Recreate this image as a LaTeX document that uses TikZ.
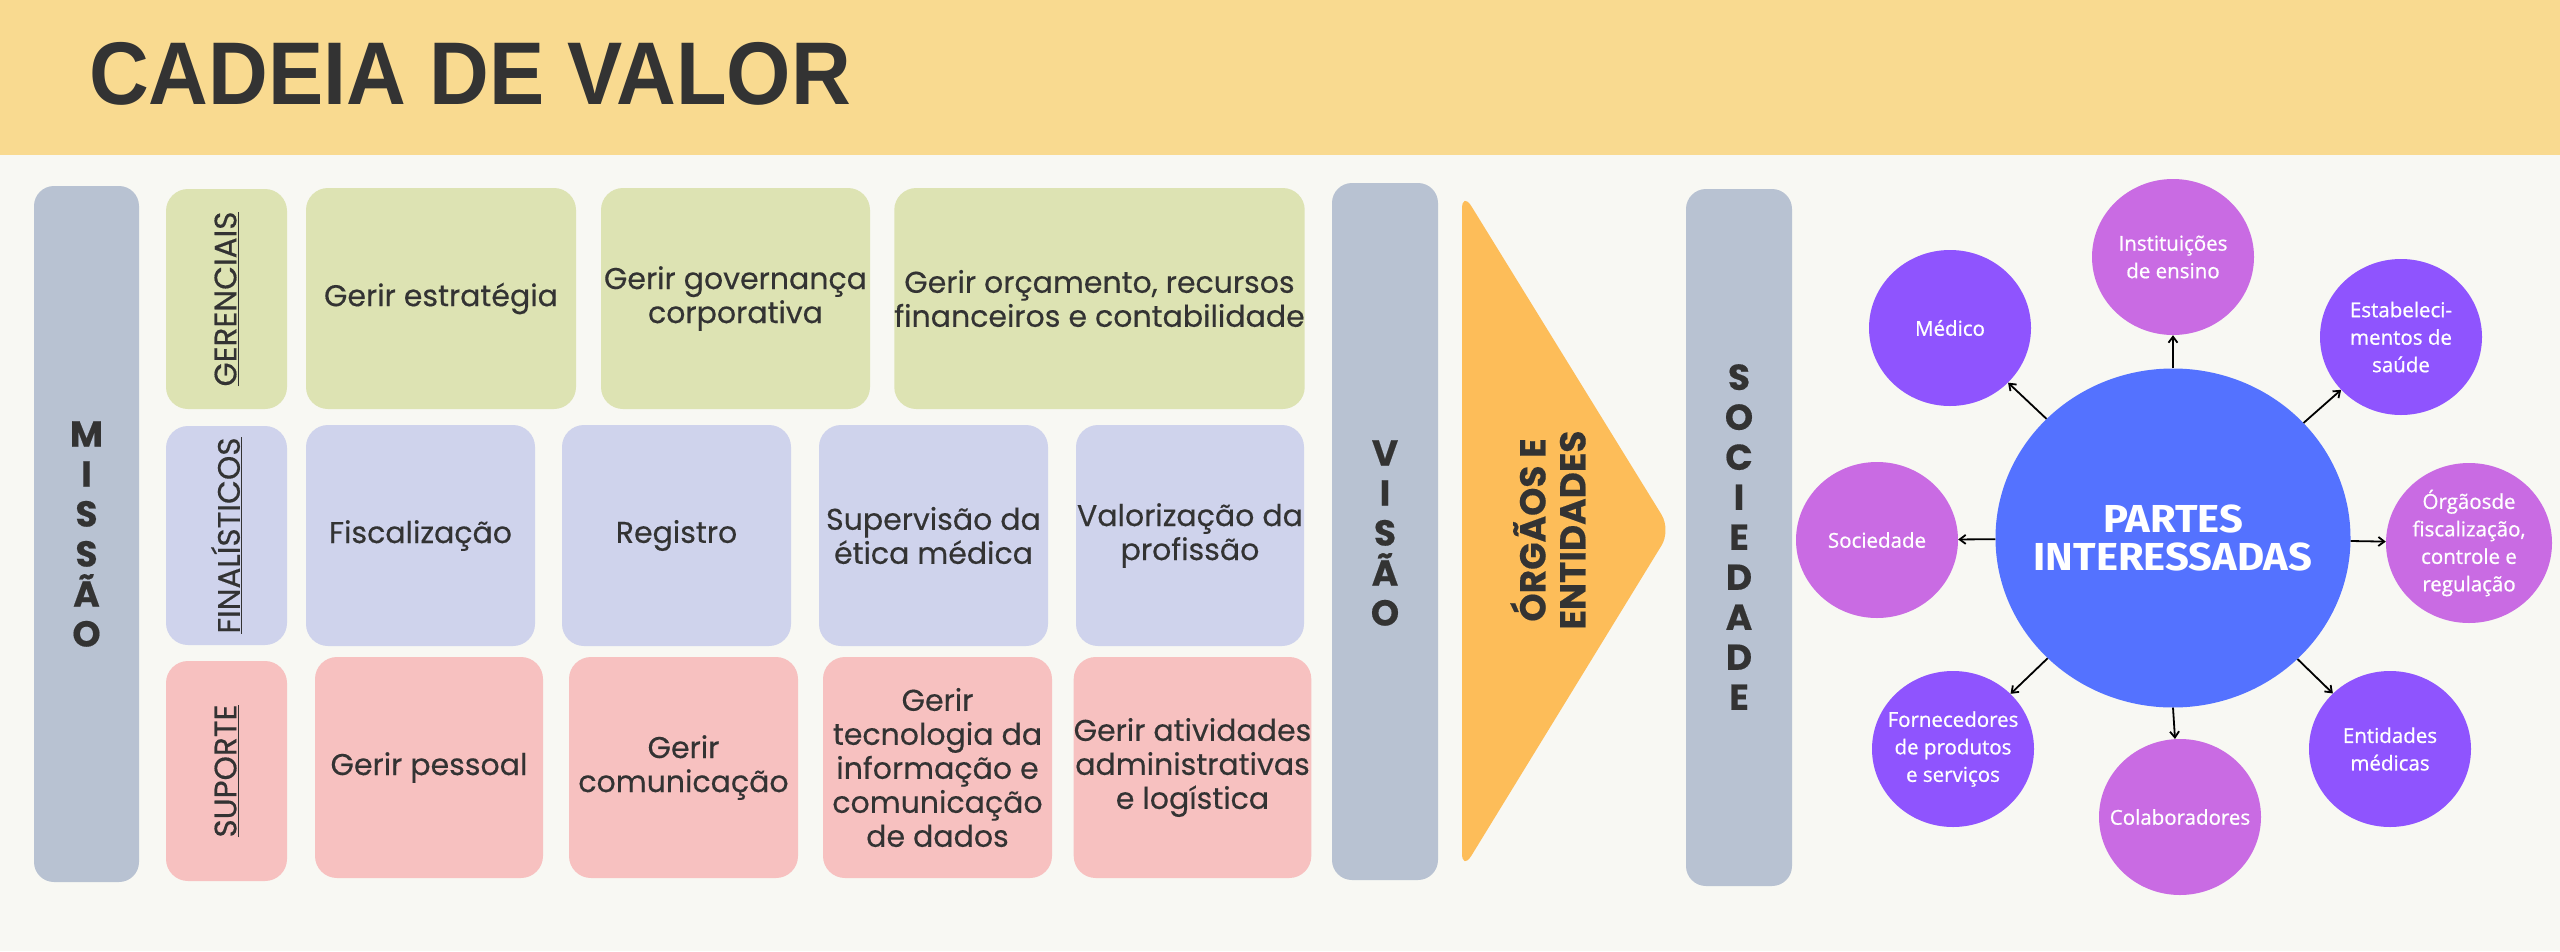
\documentclass[tikz,border=0pt]{standalone}
\usepackage{fontspec}
\setmainfont{Poppins}[FakeBold=0.4]
\newfontfamily\titlefont{Liberation Sans}
\newfontfamily\circfont{Fira Sans}
\newfontfamily\satfont{Open Sans}[FakeBold=0.8]
\usetikzlibrary{arrows.meta,shapes.geometric}
\definecolor{bgc}{HTML}{F8F8F3}
\definecolor{hdr}{HTML}{F9DA90}
\definecolor{ink}{HTML}{333333}
\definecolor{greyc}{HTML}{B8C2D2}
\definecolor{greenc}{HTML}{DDE3B3}
\definecolor{lavc}{HTML}{CFD3EC}
\definecolor{pinkc}{HTML}{F7C1C0}
\definecolor{orangec}{HTML}{FDBD59}
\definecolor{bluec}{HTML}{5472FF}
\definecolor{purplec}{HTML}{8F54FE}
\definecolor{orchidc}{HTML}{C96BE3}
\tikzset{
  panel/.style={rounded corners=22pt, inner sep=0pt, align=center, text=ink,
    font=\fontsize{30}{34}\selectfont},
  column/.style={rounded corners=20pt, inner sep=0pt, fill=greyc},
  stack/.style={align=center, text=ink, inner sep=0pt, font=\bfseries\fontsize{36}{40}\selectfont},
  rotlabel/.style={rotate=90, inner sep=0pt, text=ink, font=\fontsize{31}{34}\selectfont},
  satshape/.style={ellipse, inner sep=0pt, minimum width=162pt, minimum height=156pt},
  sattext/.style={inner sep=0pt, text=white, align=center,
    font=\satfont\fontsize{20.5}{27.5}\selectfont},
  arr/.style={-{Straight Barb[length=6pt,width=9pt]}, line width=1.8pt, black},
}
\newcommand\pbox[7]{%
  \node[panel, fill=#2, minimum width={(#5-#3)*1pt}, minimum height={(#6-#4)*1pt}]
    (#1) at ({(#3+#5)/2},{(#4+#6)/2}) {#7};}
\newcommand\satnode[6][]{%
  \node[satshape, fill=#3, #1] (#2) at (#4,#5) {};
  \node[sattext] (#2-t) at (#2) {#6};}
\begin{document}
\begin{tikzpicture}[x=1pt,y=-1pt]
\useasboundingbox (0,0) rectangle (2560,951);
\fill[bgc] (0,0) rectangle (2560,951);
\fill[hdr] (0,0) rectangle (2560,155);
\node[anchor=west, inner sep=0pt, text=ink] (title) at (89,74)
  {\titlefont\bfseries\fontsize{89}{89}\selectfont\scalebox{0.93}[1]{CADEIA DE VALOR}};

% columns
\node[column, minimum width=105pt, minimum height=696pt] (mis) at (86.5,534) {};
\node[column, minimum width=106pt, minimum height=697pt] (vis) at (1385,531.5) {};
\node[column, minimum width=106pt, minimum height=697pt] (soc) at (1739,537.5) {};
\node[stack] (mist) at (86.5,534) {M\\I\\S\\S\\Ã\\O};
\node[stack] (vist) at (1385,533) {V\\I\\S\\Ã\\O};
\node[stack] (soct) at (1739,537) {S\\O\\C\\I\\E\\D\\A\\D\\E};

% row 1
\pbox{lgr}{greenc}{166}{189}{287}{409}{}
\pbox{g1}{greenc}{306}{188}{576}{409}{Gerir estratégia}
\pbox{g2}{greenc}{601}{188}{870}{409}{Gerir governança\\corporativa}
\pbox{g3}{greenc}{896}{188}{1303}{409}{Gerir orçamento, recursos\\financeiros e contabilidade}
% row 2
\pbox{lfi}{lavc}{166}{426}{287}{645}{}
\pbox{f1}{lavc}{306}{425}{535}{646}{Fiscalização}
\pbox{f2}{lavc}{562}{425}{791}{646}{Registro}
\pbox{f3}{lavc}{819}{425}{1048}{646}{Supervisão da\\ética médica}
\pbox{f4}{lavc}{1076}{425}{1304}{646}{Valorização da\\profissão}
% row 3
\pbox{lsu}{pinkc}{166}{661}{287}{881}{}
\pbox{s1}{pinkc}{315}{657}{543}{878}{Gerir pessoal}
\pbox{s2}{pinkc}{569}{657}{798}{878}{Gerir\\comunicação}
\pbox{s3}{pinkc}{823}{657}{1052}{878}{Gerir\\tecnologia da\\informação e\\comunicação\\de dados}
\pbox{s4}{pinkc}{1078}{657}{1307}{878}{Gerir atividades\\administrativas\\e logística}

\node[rotlabel] (lgrt) at (lgr) {\underline{GERENCIAIS}};
\node[rotlabel] (lfit) at (lfi) {\underline{FINALÍSTICOS}};
\node[rotlabel] (lsut) at (lsu) {\underline{SUPORTE}};

% orange arrow
\fill[orangec, rounded corners=18pt] (1462,191) -- (1671,530) -- (1462,871) -- cycle;
\node[rotate=90, align=center, inner sep=0pt, text=ink,
  font=\bfseries\fontsize{36}{40}\selectfont] (org) at (1548,530) {ÓRGÃOS E\\ENTIDADES};

% stakeholders
\node[ellipse, inner sep=0pt, fill=bluec, minimum width=355pt, minimum height=339pt]
  (pi) at (2173,538) {};
\node[inner sep=0pt, text=white, align=center,
  font=\circfont\bfseries\fontsize{39}{38}\selectfont]
  (pi-t) at (pi) {\scalebox{1.07}[1]{PARTES}\\\scalebox{1.07}[1]{INTERESSADAS}};
\satnode{inst}{orchidc}{2173}{257}{Instituições\\de ensino}
\satnode{med}{purplec}{1950}{328}{Médico}
\satnode{est}{purplec}{2401}{337}{Estabeleci-\\mentos de\\saúde}
\satnode{socs}{orchidc}{1877}{540}{Sociedade}
\satnode[minimum width=166pt, minimum height=160pt]{orgs}{orchidc}{2469}{543}{Órgãosde\\fiscalização,\\controle e\\regulação}
\satnode{forn}{purplec}{1953}{749}{Fornecedores\\de produtos\\e serviços}
\satnode{col}{orchidc}{2180}{817}{Colaboradores}
\satnode{ent}{purplec}{2390}{749}{Entidades\\médicas}

\draw[arr] (pi) -- (inst);
\draw[arr] (pi) -- (med);
\draw[arr] (pi) -- (est);
\draw[arr] (pi) -- (socs);
\draw[arr] (pi) -- (orgs);
\draw[arr] (pi) -- (forn);
\draw[arr] (pi.south) -- (col);
\draw[arr] (pi) -- (ent);
\end{tikzpicture}
\end{document}
